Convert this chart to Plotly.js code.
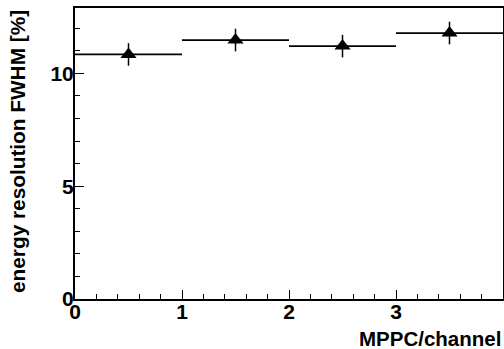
<!DOCTYPE html>
<html>
<head>
<meta charset="utf-8">
<script src="https://cdn.plot.ly/plotly-3.0.1.min.js"></script>
<style>html,body{margin:0;padding:0;background:#fff;}#chart{width:504px;height:349px;}</style>
</head>
<body>
<div id="chart"></div>
<script>
const channels = [0.5, 1.5, 2.5, 3.5];
const binHalfWidth = [0.5, 0.5, 0.5, 0.5];
const resolution = [10.84, 11.48, 11.21, 11.79];
const resolutionErr = [0.5, 0.5, 0.5, 0.5];
const xTickVals = [0, 1, 2, 3, 4];
const yTickVals = [0, 5, 10];

const font = "Liberation Sans, Arial, sans-serif";

const trace = {
  x: channels,
  y: resolution,
  type: 'scatter',
  mode: 'markers',
  marker: {symbol: 'triangle-up', size: 14, color: '#000'},
  error_x: {type: 'data', array: binHalfWidth, visible: true, width: 0, thickness: 1.8, color: '#000'},
  error_y: {type: 'data', array: resolutionErr, visible: true, width: 0, thickness: 1.5, color: '#000'},
  cliponaxis: false,
  hoverinfo: 'none'
};

const layout = {
  width: 504, height: 349,
  margin: {l: 75, r: 1, t: 8, b: 50},
  paper_bgcolor: '#fff', plot_bgcolor: '#fff',
  showlegend: false,
  font: {family: font, color: '#000'},
  xaxis: {
    range: [0, 4], tickvals: xTickVals, ticktext: xTickVals.map(String),
    ticks: 'inside', ticklen: 9, tickwidth: 1, tickcolor: '#000',
    minor: {dtick: 0.2, ticks: 'inside', ticklen: 5, tickwidth: 1, tickcolor: '#000', showgrid: false},
    showline: true, linewidth: 2, linecolor: '#000', mirror: true,
    showgrid: false, zeroline: false,
    tickfont: {family: font, size: 21, weight: 'bold', color: '#000'},
    ticklabelstandoff: -7
  },
  yaxis: {
    range: [0, 12.9], tickvals: yTickVals, ticktext: yTickVals.map(String),
    ticks: 'inside', ticklen: 9, tickwidth: 1, tickcolor: '#000',
    minor: {dtick: 1, ticks: 'inside', ticklen: 5, tickwidth: 1, tickcolor: '#000', showgrid: false},
    showline: true, linewidth: 2, linecolor: '#000', mirror: true,
    showgrid: false, zeroline: false,
    tickfont: {family: font, size: 21, weight: 'bold', color: '#000'},
    ticklabelstandoff: -5
  },
  annotations: [
    {text: 'MPPC/channel', xref: 'paper', yref: 'paper', x: 1, y: 0, xanchor: 'right', yanchor: 'middle',
     yshift: -39, showarrow: false, font: {family: font, size: 20.5, weight: 'bold', color: '#000'}},
    {text: 'energy resolution FWHM [%]', xref: 'paper', yref: 'paper', x: 0, y: 1, xanchor: 'right', yanchor: 'top',
     xshift: -44, yshift: 0, textangle: -90, showarrow: false, font: {family: font, size: 20.8, weight: 'bold', color: '#000'}}
  ]
};

Plotly.newPlot('chart', [trace], layout, {staticPlot: true, displayModeBar: false});
</script>
</body>
</html>
